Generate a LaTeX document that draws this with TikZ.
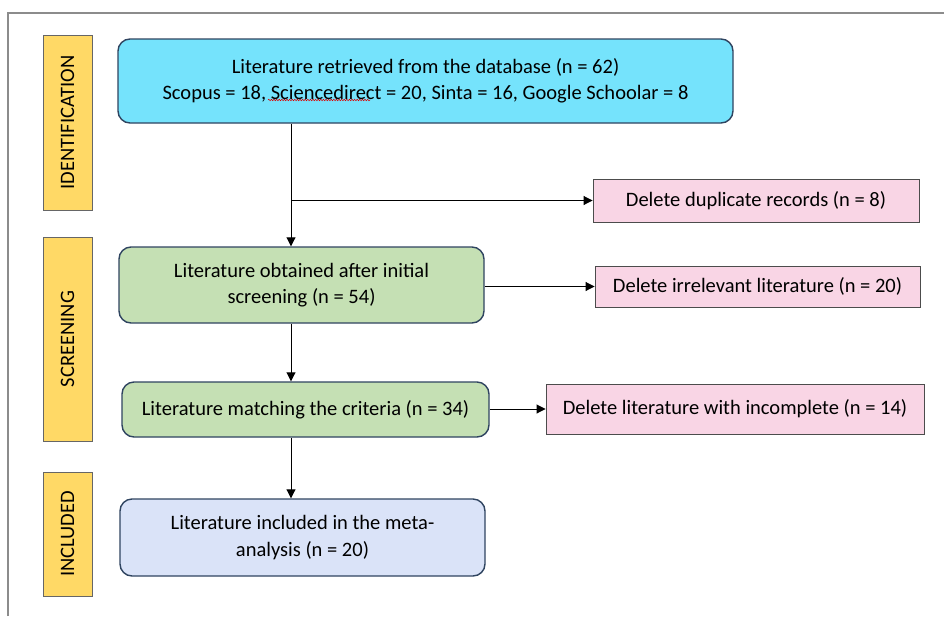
\documentclass[tikz,border=0pt]{standalone}
\usepackage{fontspec}
\setmainfont{Carlito}
\usetikzlibrary{arrows.meta,decorations.pathmorphing}
\definecolor{cyanfill}{HTML}{75E3FC}
\definecolor{greenfill}{HTML}{C5E0B4}
\definecolor{bluefill}{HTML}{DAE3F8}
\definecolor{pinkfill}{HTML}{F9D5E5}
\definecolor{yellowfill}{HTML}{FFD966}
\definecolor{navy}{HTML}{2F4460}
\definecolor{framegray}{HTML}{8C8C8C}
\tikzset{
  rbox/.style={draw=navy, line width=1.4pt, rounded corners=12pt, align=center, inner sep=0pt,
    font=\fontsize{20.5}{26.5}\selectfont},
  pbox/.style={draw=black!70, line width=0.9pt, fill=pinkfill, inner sep=0pt,
    font=\fontsize{20.5}{26}\selectfont},
  stage/.style={draw=black!60, line width=0.9pt, fill=yellowfill, rotate=90, inner sep=0pt,
    minimum height=49pt, font=\fontsize{20.5}{24}\selectfont},
  arr/.style={draw=black, line width=0.9pt, -{Triangle[length=9pt,width=9pt]}},
  ln/.style={draw=black, line width=0.9pt}
}
\begin{document}
\begin{tikzpicture}[x=1pt,y=-1pt]
\useasboundingbox (0,0) rectangle (944,616);
\draw[framegray, line width=1.8pt] (8,616) |- (944,13);

% stage labels
\node[stage, minimum width=175pt] (ident) at (67.5,122.5) {IDENTIFICATION};
\node[stage, minimum width=204pt] (scr) at (67.5,339) {SCREENING};
\node[stage, minimum width=124pt] (inc) at (67.5,534) {INCLUDED};

% main boxes
\node[rbox, fill=cyanfill, minimum width=615pt, minimum height=84pt] (db) at (425.5,81)
  {Literature retrieved from the database (n = 62)\\Scopus = 18, Sciencedirect = 20, Sinta = 16, Google Schoolar = 8};
\node[rbox, fill=greenfill, minimum width=365pt, minimum height=76pt] (g1) at (301.5,285)
  {Literature obtained after initial\\screening (n = 54)};
\node[rbox, fill=greenfill, minimum width=367pt, minimum height=55pt] (g2) at (305.5,409.5)
  {Literature matching the criteria (n = 34)};
\node[rbox, fill=bluefill, minimum width=365pt, minimum height=77pt] (fin) at (302.5,537.5)
  {Literature included in the meta-\\analysis (n = 20)};

% exclusion boxes
\node[pbox, minimum width=326pt, minimum height=43pt] (dup) at (756,200.5) {Delete duplicate records (n = 8)};
\node[pbox, minimum width=325pt, minimum height=41pt] (irr) at (757.5,286.5) {Delete irrelevant literature (n = 20)};
\node[pbox, minimum width=378pt, minimum height=50pt] (incl) at (735,409) {\raisebox{4pt}{Delete literature with incomplete (n = 14)}};

% spell-check squiggle
\draw[red!85!black, line width=0.5pt, decorate, decoration={snake, amplitude=0.8pt, segment length=2.6pt}] (268,100) -- (370,100);

% connectors
\coordinate (tx) at (291,0);
\draw[arr] (db.south -| tx) -- (g1.north -| tx);
\draw[arr] (dup.west -| tx) -- (dup.west);
\draw[arr] (g1.east |- irr.west) -- (irr.west);
\draw[arr] (g1.south -| tx) -- (g2.north -| tx);
\draw[arr] (g2.east |- incl.west) -- (incl.west);
\draw[arr] (g2.south -| tx) -- (fin.north -| tx);
\end{tikzpicture}
\end{document}
